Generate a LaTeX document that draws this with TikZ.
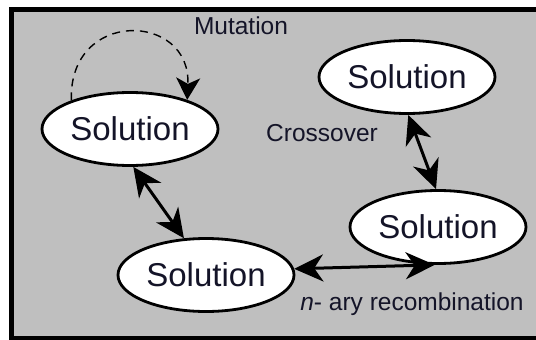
\documentclass[tikz,border=0pt]{standalone}
\usepackage{fontspec}
\setmainfont{Liberation Sans}
\usetikzlibrary{shapes.geometric,arrows.meta}
\definecolor{bggray}{RGB}{191,191,191}
\definecolor{txt}{RGB}{20,20,40}
\tikzset{
  sol/.style={ellipse, draw=black, line width=2.8pt, fill=white, minimum width=176pt, minimum height=73pt, inner sep=0pt, text=txt, font=\fontsize{33}{38}\selectfont},
  lbl/.style={text=txt, font=\fontsize{24.5}{28}\selectfont, inner sep=0pt},
  dbl/.style={line width=3pt, {Stealth[length=29pt,width=27pt,inset=9pt]}-{Stealth[length=29pt,width=27pt,inset=9pt]}},
  mut/.style={line width=1.4pt, dash pattern=on 8pt off 6pt, -{Stealth[length=22pt,width=24pt,inset=6pt]}}
}
\begin{document}
\begin{tikzpicture}[x=1pt,y=-1pt]
\useasboundingbox (0,0) rectangle (536,340);
\begin{scope}
\clip (0,0) rectangle (536,340);
\draw[line width=5pt, fill=bggray] (11.5,9.5) rectangle (545,338.5);
\end{scope}
\node[sol] (s1) at (130,129) {Solution};
\node[sol] (s2) at (407,77) {Solution};
\node[sol] (s3) at (438,227) {Solution};
\node[sol] (s4) at (206,275) {Solution};
\node[lbl] (m) at (241,26) {Mutation};
\node[lbl] (c) at (322,133) {Crossover};
\node[lbl] (r) at (412,304) {\textit{n}- ary recombination};
\draw[mut] (s1.154) .. controls +(-3,-92) and +(4,-88) .. (s1.27);
\draw[dbl] (s1.-85) -- (s4.121);
\draw[dbl] (s2.-88) -- (s3.93);
\draw[dbl] (s4.4) -- (s3.-95);
\end{tikzpicture}
\end{document}
